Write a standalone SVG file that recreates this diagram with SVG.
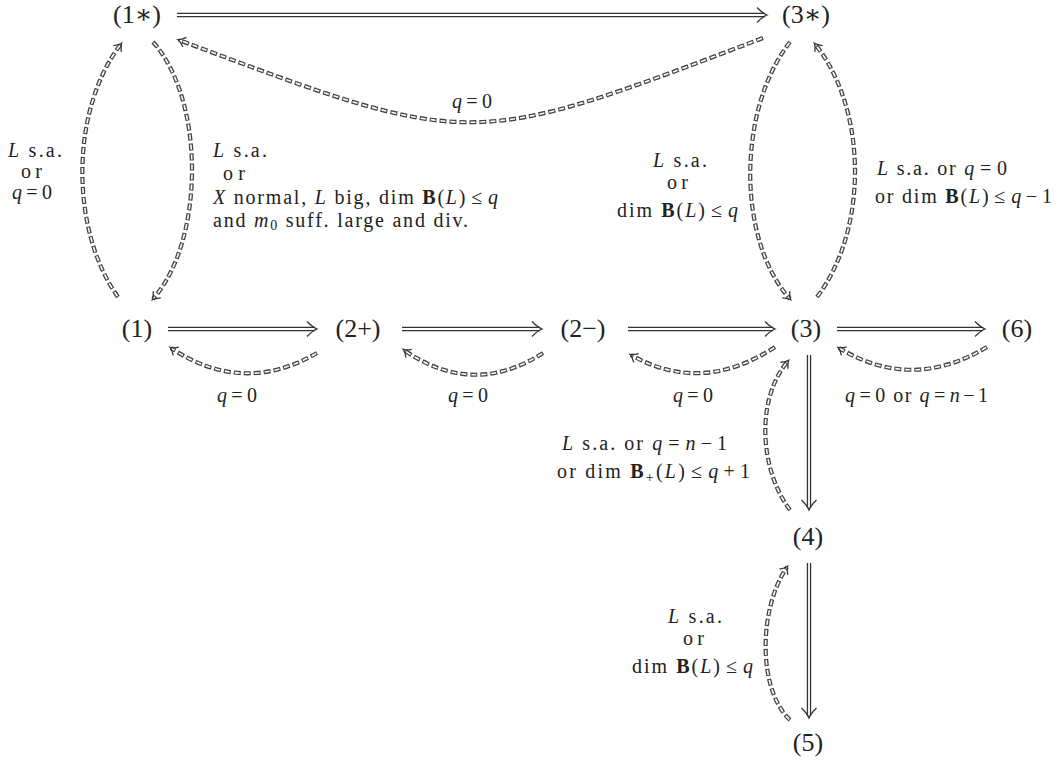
<svg xmlns="http://www.w3.org/2000/svg" width="1058" height="767" viewBox="0 0 1058 767">
<style>
text { font-family: "Liberation Serif", "DejaVu Serif", serif; fill: #222; }
.n { font-size: 26px; text-anchor: middle; }
.l { font-size: 20px; }
.i { font-style: italic; }
.b { font-weight: bold; }
.dk { fill: none; stroke: #333; stroke-width: 4.4; }
.wt { fill: none; stroke: #fff; stroke-width: 1.8; }
.dd { fill: none; stroke: #444; stroke-width: 4.2; stroke-dasharray: 7 3; }
.dw { fill: none; stroke: #fff; stroke-width: 1.6; stroke-dasharray: 5 5; stroke-dashoffset: -1; }
</style>
<defs>
<marker id="ah" viewBox="-12 -9 14 18" refX="-2" refY="0" markerWidth="14" markerHeight="18" markerUnits="userSpaceOnUse" orient="auto" overflow="visible">
<path d="M-10,-7.5 Q-4,-1.5 0,0 Q-4,1.5 -10,7.5" fill="none" stroke="#333" stroke-width="1.3"/>
</marker>
<marker id="dh" viewBox="-10 -7 12 14" refX="-1" refY="0" markerWidth="12" markerHeight="14" markerUnits="userSpaceOnUse" orient="auto" overflow="visible">
<path d="M-7,-5 Q-3,-1 0,0 Q-3,1 -7,5" fill="none" stroke="#333" stroke-width="1.3"/>
</marker>
</defs>

<g id="connectors">
  <path class="dk" d="M177,15 H765"/><path class="wt" d="M177,15 H765" marker-end="url(#ah)"/>
  <path class="dk" d="M168,329 H315"/><path class="wt" d="M168,329 H315" marker-end="url(#ah)"/>
  <path class="dk" d="M402,329 H540"/><path class="wt" d="M402,329 H540" marker-end="url(#ah)"/>
  <path class="dk" d="M628,329 H773"/><path class="wt" d="M628,329 H773" marker-end="url(#ah)"/>
  <path class="dk" d="M837,329 H983"/><path class="wt" d="M837,329 H983" marker-end="url(#ah)"/>
  <path class="dk" d="M809,355 V508"/><path class="wt" d="M809,355 V508" marker-end="url(#ah)"/>
  <path class="dk" d="M809,563 V716"/><path class="wt" d="M809,563 V716" marker-end="url(#ah)"/>

  <path class="dd" d="M763,38 C468,150 473,150 179,40"/><path class="dw" d="M763,38 C468,150 473,150 179,40" marker-end="url(#dh)"/>
  <path class="dd" d="M118,297 C70,230 70,110 121,44"/><path class="dw" d="M118,297 C70,230 70,110 121,44" marker-end="url(#dh)"/>
  <path class="dd" d="M153,42 C205,100 205,240 153,299"/><path class="dw" d="M153,42 C205,100 205,240 153,299" marker-end="url(#dh)"/>
  <path class="dd" d="M790,42 C737,110 737,240 790,299"/><path class="dw" d="M790,42 C737,110 737,240 790,299" marker-end="url(#dh)"/>
  <path class="dd" d="M817,297 C868,230 868,110 815,44"/><path class="dw" d="M817,297 C868,230 868,110 815,44" marker-end="url(#dh)"/>
  <path class="dd" d="M317,353 Q243,396 171,348"/><path class="dw" d="M317,353 Q243,396 171,348" marker-end="url(#dh)"/>
  <path class="dd" d="M543,353 Q473,398 404,350"/><path class="dw" d="M543,353 Q473,398 404,350" marker-end="url(#dh)"/>
  <path class="dd" d="M775,347 Q702,395 631,355"/><path class="dw" d="M775,347 Q702,395 631,355" marker-end="url(#dh)"/>
  <path class="dd" d="M987,347 Q912,392 839,348"/><path class="dw" d="M987,347 Q912,392 839,348" marker-end="url(#dh)"/>
  <path class="dd" d="M790,510 C760,470 755,400 788,361"/><path class="dw" d="M790,510 C760,470 755,400 788,361" marker-end="url(#dh)"/>
  <path class="dd" d="M790,720 C758,690 758,610 787,567"/><path class="dw" d="M790,720 C758,690 758,610 787,567" marker-end="url(#dh)"/>
</g>

<g id="node-1star"><text class="n" x="137" y="23">(1∗)</text></g>
<g id="node-3star"><text class="n" x="806" y="23">(3∗)</text></g>
<g id="node-1"><text class="n" x="137" y="337">(1)</text></g>
<g id="node-2plus"><text class="n" x="358" y="337">(2+)</text></g>
<g id="node-2minus"><text class="n" x="583" y="337">(2−)</text></g>
<g id="node-3"><text class="n" x="806" y="337">(3)</text></g>
<g id="node-6"><text class="n" x="1017" y="337">(6)</text></g>
<g id="node-4"><text class="n" x="808" y="545">(4)</text></g>
<g id="node-5"><text class="n" x="808" y="751">(5)</text></g>

<g id="labels">
  <text class="l" x="8" y="157" textLength="54"><tspan class="i">L</tspan> s.a.</text>
  <text class="l" x="21" y="178" textLength="21">or</text>
  <text class="l" x="12" y="199" textLength="40"><tspan class="i">q</tspan><tspan dx="3">=</tspan><tspan dx="3">0</tspan></text>

  <text class="l" x="213" y="157" textLength="54"><tspan class="i">L</tspan> s.a.</text>
  <text class="l" x="223" y="180" textLength="22">or</text>
  <text class="l" x="213" y="204" textLength="285"><tspan class="i">X</tspan> normal, <tspan class="i">L</tspan> big,  dim <tspan class="b">B</tspan>(<tspan class="i">L</tspan>)<tspan dx="4">≤</tspan><tspan class="i" dx="4">q</tspan></text>
  <text class="l" x="213" y="227" textLength="255">and <tspan class="i">m</tspan><tspan font-size="14" dy="3">0</tspan><tspan dy="-3"> suff. large and div.</tspan></text>

  <text class="l" x="452" y="108" textLength="40"><tspan class="i">q</tspan><tspan dx="3">=</tspan><tspan dx="3">0</tspan></text>

  <text class="l" x="653" y="167" textLength="54"><tspan class="i">L</tspan> s.a.</text>
  <text class="l" x="667" y="189" textLength="21">or</text>
  <text class="l" x="617" y="217" textLength="121">dim <tspan class="b">B</tspan>(<tspan class="i">L</tspan>)<tspan dx="4">≤</tspan><tspan class="i" dx="4">q</tspan></text>

  <text class="l" x="877" y="175" textLength="130"><tspan class="i">L</tspan> s.a. or <tspan class="i">q</tspan><tspan dx="4">=</tspan><tspan dx="4">0</tspan></text>
  <text class="l" x="875" y="203" textLength="177">or dim <tspan class="b">B</tspan>(<tspan class="i">L</tspan>)<tspan dx="4">≤</tspan><tspan class="i" dx="4">q</tspan><tspan dx="3">−</tspan><tspan dx="3">1</tspan></text>

  <text class="l" x="217" y="402" textLength="40"><tspan class="i">q</tspan><tspan dx="3">=</tspan><tspan dx="3">0</tspan></text>
  <text class="l" x="448" y="402" textLength="40"><tspan class="i">q</tspan><tspan dx="3">=</tspan><tspan dx="3">0</tspan></text>
  <text class="l" x="673" y="402" textLength="40"><tspan class="i">q</tspan><tspan dx="3">=</tspan><tspan dx="3">0</tspan></text>
  <text class="l" x="845" y="402" textLength="143"><tspan class="i">q</tspan><tspan dx="3">=</tspan><tspan dx="3">0</tspan> or <tspan class="i">q</tspan><tspan dx="3">=</tspan><tspan class="i" dx="3">n</tspan><tspan dx="2">−</tspan><tspan dx="2">1</tspan></text>

  <text class="l" x="562" y="450" textLength="165"><tspan class="i">L</tspan> s.a. or <tspan class="i">q</tspan><tspan dx="4">=</tspan><tspan class="i" dx="4">n</tspan><tspan dx="3">−</tspan><tspan dx="3">1</tspan></text>
  <text class="l" x="557" y="478" textLength="193">or dim <tspan class="b">B</tspan><tspan font-size="14" dy="4">+</tspan><tspan dy="-4">(</tspan><tspan class="i">L</tspan>)<tspan dx="4">≤</tspan><tspan class="i" dx="4">q</tspan><tspan dx="3">+</tspan><tspan dx="3">1</tspan></text>

  <text class="l" x="668" y="623" textLength="54"><tspan class="i">L</tspan> s.a.</text>
  <text class="l" x="683" y="645" textLength="21">or</text>
  <text class="l" x="632" y="673" textLength="121">dim <tspan class="b">B</tspan>(<tspan class="i">L</tspan>)<tspan dx="4">≤</tspan><tspan class="i" dx="4">q</tspan></text>
</g>
</svg>
